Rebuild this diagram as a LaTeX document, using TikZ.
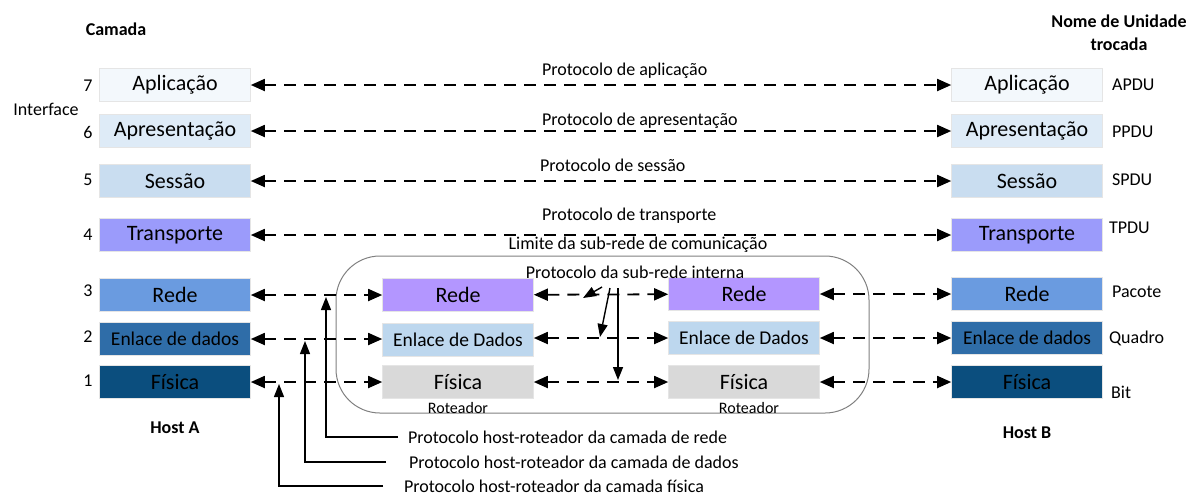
\documentclass[tikz,border=0pt]{standalone}
\usepackage{fontspec}
\setmainfont{Carlito}
\usetikzlibrary{arrows.meta}

\definecolor{appl}{HTML}{F3F8FC}
\definecolor{pres}{HTML}{DEEBF7}
\definecolor{sess}{HTML}{C9DDF0}
\definecolor{trans}{HTML}{9B9BFB}
\definecolor{netH}{HTML}{6A9BE0}
\definecolor{linkH}{HTML}{2F6DA8}
\definecolor{phyH}{HTML}{0B4E7E}
\definecolor{netR}{HTML}{B396FF}
\definecolor{linkR}{HTML}{BDD7EE}
\definecolor{phyR}{HTML}{D9D9D9}

\begin{document}
\begin{tikzpicture}[x=0.5pt, y=-0.5pt,
  layer/.style={rectangle, fill=#1, draw=black!10, line width=0.3pt,
    minimum width=75.5pt, minimum height=16.5pt, inner sep=0pt,
    font=\fontsize{11}{13}\selectfont},
  small/.style={font=\fontsize{9.75}{12}\selectfont},
  lbl/.style={font=\fontsize{9}{11}\selectfont},
  hdr/.style={font=\fontsize{9}{11.5}\selectfont\bfseries, align=center},
  proto/.style={dash pattern=on 6pt off 4pt, line width=0.9pt,
    {Triangle[length=7pt,width=6pt]}-{Triangle[length=7pt,width=6pt]}},
  tag/.style={line width=0.7pt, -{Triangle[length=6.5pt,width=5pt]}}]

  \useasboundingbox (0,0) rectangle (1197,494);

  % Sub-network boundary
  \draw[gray, line width=0.5pt, rounded corners=22pt] (336,256) rectangle (869,413);

  % Host A
  \node[layer=appl]  (A7) at (175,85)  {Aplicação};
  \node[layer=pres]  (A6) at (175,131) {Apresentação};
  \node[layer=sess]  (A5) at (175,181) {Sessão};
  \node[layer=trans] (A4) at (175,235) {Transporte};
  \node[layer=netH]  (A3) at (175,295) {Rede};
  \node[layer=linkH, small] (A2) at (175,339) {Enlace de dados};
  \node[layer=phyH]  (A1) at (175,382) {Física};

  % Host B
  \node[layer=appl]  (B7) at (1027,85)  {Aplicação};
  \node[layer=pres]  (B6) at (1027,131) {Apresentação};
  \node[layer=sess]  (B5) at (1027,181) {Sessão};
  \node[layer=trans] (B4) at (1027,235) {Transporte};
  \node[layer=netH]  (B3) at (1027,294) {Rede};
  \node[layer=linkH, small] (B2) at (1027,338) {Enlace de dados};
  \node[layer=phyH]  (B1) at (1027,382) {Física};

  % Routers
  \node[layer=netR]  (R3) at (458,295) {Rede};
  \node[layer=linkR, small] (R2) at (458,340) {Enlace de Dados};
  \node[layer=phyR]  (R1) at (458,382) {Física};
  \node[layer=netR]  (S3) at (744,294) {Rede};
  \node[layer=linkR, small] (S2) at (744,338) {Enlace de Dados};
  \node[layer=phyR]  (S1) at (744,382) {Física};
  \node[lbl, font=\fontsize{8}{10}\selectfont] (rotA) at (458,408) {Roteador};
  \node[lbl, font=\fontsize{8}{10}\selectfont] (rotB) at (749,408) {Roteador};

  % Peer protocols
  \draw[proto] (A7) -- (B7);
  \draw[proto] (A6) -- (B6);
  \draw[proto] (A5) -- (B5);
  \draw[proto] (A4) -- (B4);
  \node[lbl, anchor=west] (pApl) at (535,71)  {Protocolo de aplicação};
  \node[lbl, anchor=west] (pPre) at (535,121) {Protocolo de apresentação};
  \node[lbl, anchor=west] (pSes) at (533,165) {Protocolo de sessão};
  \node[lbl, anchor=west] (pTra) at (535,216) {Protocolo de transporte};
  \node[lbl] (limit) at (638,245) {Limite da sub-rede de comunicação};
  \node[lbl] (sub) at (635,272) {Protocolo da sub-rede interna};

  % Hop-by-hop protocols
  \draw[proto] (A3) -- (R3);
  \draw[proto] (A2.east) -- (R2.west |- A2.east);
  \draw[proto] (A1) -- (R1);
  \draw[proto] (R3) -- (S3);
  \draw[proto] (R2.east |- S2.west) -- (S2);
  \draw[proto] (R1) -- (S1);
  \draw[proto] (S3) -- (B3);
  \draw[proto] (S2) -- (B2);
  \draw[proto] (S1) -- (B1);

  % Internal sub-network arrows
  \coordinate (i1) at (602,287);
  \coordinate (i2) at (610,288);
  \coordinate (i3) at (618,288);
  \draw[tag] (i1) -- (583,298);
  \draw[tag] (i2) -- (600,337);
  \draw[tag] (i3) -- (618,380);

  % Host-router notes
  \node[lbl, anchor=west] (noteNet)  at (401,437) {Protocolo host-roteador da camada de rede};
  \node[lbl, anchor=west] (noteData) at (402,462) {Protocolo host-roteador da camada de dados};
  \node[lbl, anchor=west] (notePhy)  at (397,486) {Protocolo host-roteador da camada física};
  \coordinate (tNet)  at (326,297);
  \coordinate (tData) at (305,341);
  \coordinate (tPhy)  at (279,384);
  \draw[tag] ([xshift=-1.5pt]noteNet.west) -| (tNet);
  \draw[tag] ([xshift=-8pt]noteData.west) -| (tData);
  \draw[tag] ([xshift=-7pt]notePhy.west) -| (tPhy);

  % Layer numbers
  \foreach \n/\y in {7/86, 6/132, 5/180, 4/235, 3/291, 2/337, 1/381}
    \node[lbl] (num\n) at (88,\y) {\n};
  \node[lbl] (iface) at (46,109) {Interface};

  % Unit names
  \node[lbl, anchor=west] (uA) at (1105,85)  {APDU};
  \node[lbl, anchor=west] (uP) at (1105,132) {PPDU};
  \node[lbl, anchor=west] (uS) at (1105,180) {SPDU};
  \node[lbl, anchor=west] (uT) at (1102,228) {TPDU};
  \node[lbl, anchor=west] (uN) at (1105,292) {Pacote};
  \node[lbl, anchor=west] (uL) at (1102,338) {Quadro};
  \node[lbl, anchor=west] (uB) at (1104,392) {Bit};

  % Headings
  \node[hdr] (camada) at (116,29) {Camada};
  \node[hdr] (unit) at (1119,33) {Nome de Unidade\\trocada};
  \node[hdr] (hostA) at (175,428) {Host A};
  \node[hdr] (hostB) at (1027,433) {Host B};

\end{tikzpicture}
\end{document}
